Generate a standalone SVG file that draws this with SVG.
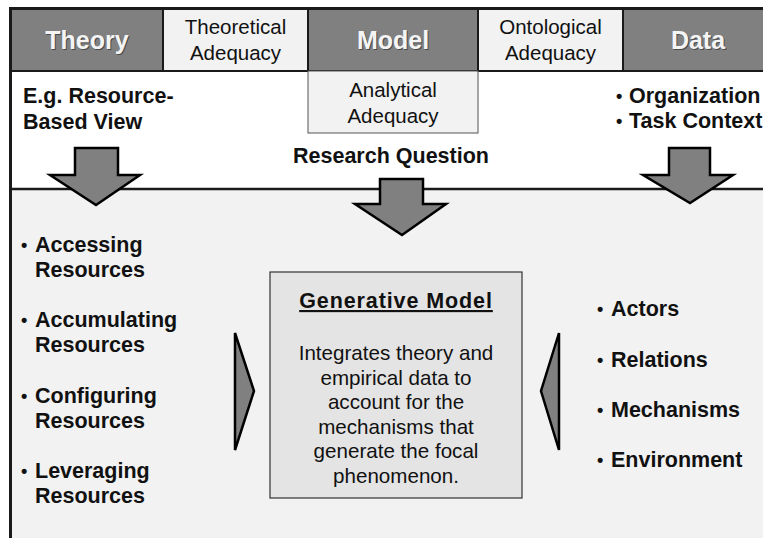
<svg xmlns="http://www.w3.org/2000/svg" width="763" height="538" viewBox="0 0 763 538">
  <style>
    .dark { fill: #808080; stroke: #1a1a1a; stroke-width: 2; }
    .light { fill: #f2f2f2; stroke: #1a1a1a; stroke-width: 2; }
    .head { font-family: "Liberation Sans", Arial, sans-serif; font-weight: bold; font-size: 25px; fill: #f4f4f4; text-anchor: middle; }
    .headShadow { font-family: "Liberation Sans", Arial, sans-serif; font-weight: bold; font-size: 25px; fill: #4a4a4a; text-anchor: middle; }
    .reg { font-family: "Liberation Sans", Arial, sans-serif; font-size: 20.5px; fill: #111; text-anchor: middle; }
    .bold { font-family: "Liberation Sans", Arial, sans-serif; font-weight: bold; font-size: 21.5px; fill: #111; }
    .dot { font-family: "Liberation Sans", Arial, sans-serif; font-weight: bold; font-size: 18px; fill: #111; }
    .body { font-family: "Liberation Sans", Arial, sans-serif; font-size: 20.6px; fill: #111; text-anchor: middle; }
    .arrow { fill: #808080; stroke: #000; stroke-width: 2.5; stroke-linejoin: miter; }
  </style>

  <!-- page background -->
  <rect x="0" y="0" width="763" height="538" fill="#ffffff"/>
  <!-- lower panel -->
  <rect x="10" y="189" width="753" height="349" fill="#f2f2f2"/>
  <line x1="10" y1="189" x2="763" y2="189" stroke="#1a1a1a" stroke-width="2.5"/>

  <!-- header row -->
  <g id="theory">
    <rect class="dark" x="11" y="9" width="152" height="62"/>
    <text class="headShadow" x="88" y="50">Theory</text>
    <text class="head" x="87" y="49">Theory</text>
  </g>
  <g id="theoretical-adequacy">
    <rect class="light" x="163" y="9" width="145" height="62"/>
    <text class="reg" x="235.5" y="34">Theoretical</text>
    <text class="reg" x="235.5" y="60">Adequacy</text>
  </g>
  <g id="model">
    <rect class="dark" x="308" y="9" width="170" height="62"/>
    <text class="headShadow" x="394" y="50">Model</text>
    <text class="head" x="393" y="49">Model</text>
  </g>
  <g id="ontological-adequacy">
    <rect class="light" x="478" y="9" width="145" height="62"/>
    <text class="reg" x="550.5" y="34">Ontological</text>
    <text class="reg" x="550.5" y="60">Adequacy</text>
  </g>
  <g id="data">
    <rect class="dark" x="623" y="9" width="142" height="62"/>
    <text class="headShadow" x="699" y="50">Data</text>
    <text class="head" x="698" y="49">Data</text>
  </g>
  <!-- outer frame edges -->
  <line x1="10" y1="8.5" x2="763" y2="8.5" stroke="#1a1a1a" stroke-width="3"/>
  <line x1="10.5" y1="7" x2="10.5" y2="538" stroke="#1a1a1a" stroke-width="3"/>

  <g id="analytical-adequacy">
    <rect x="308" y="71" width="170" height="62" fill="#f2f2f2" stroke="#555" stroke-width="1"/>
    <text class="reg" x="393" y="97">Analytical</text>
    <text class="reg" x="393" y="123">Adequacy</text>
  </g>

  <g id="theory-example">
    <text class="bold" x="23" y="103">E.g. Resource-</text>
    <text class="bold" x="23" y="129">Based View</text>
  </g>

  <g id="research-question">
    <text class="bold" x="391" y="163" text-anchor="middle">Research Question</text>
  </g>

  <g id="data-context">
    <text class="dot" x="616" y="102">•</text>
    <text class="bold" x="629" y="103">Organization</text>
    <text class="dot" x="616" y="127">•</text>
    <text class="bold" x="629" y="128">Task Context</text>
  </g>

  <g id="resource-activities">
    <text class="dot" x="21" y="251">•</text>
    <text class="bold" x="35" y="252">Accessing</text>
    <text class="bold" x="35" y="277">Resources</text>
    <text class="dot" x="21" y="326">•</text>
    <text class="bold" x="35" y="327">Accumulating</text>
    <text class="bold" x="35" y="352">Resources</text>
    <text class="dot" x="21" y="402">•</text>
    <text class="bold" x="35" y="403">Configuring</text>
    <text class="bold" x="35" y="428">Resources</text>
    <text class="dot" x="21" y="477">•</text>
    <text class="bold" x="35" y="478">Leveraging</text>
    <text class="bold" x="35" y="503">Resources</text>
  </g>

  <g id="data-elements">
    <text class="dot" x="597" y="315">•</text>
    <text class="bold" x="611" y="316">Actors</text>
    <text class="dot" x="597" y="366">•</text>
    <text class="bold" x="611" y="367">Relations</text>
    <text class="dot" x="597" y="416">•</text>
    <text class="bold" x="611" y="417">Mechanisms</text>
    <text class="dot" x="597" y="466">•</text>
    <text class="bold" x="611" y="467">Environment</text>
  </g>

  <g id="generative-model">
    <rect x="270" y="272" width="252" height="226" fill="#e4e4e4" stroke="#333" stroke-width="1.2"/>
    <text class="bold" x="396" y="308" text-anchor="middle" font-size="24" letter-spacing="0.9" text-decoration="underline">Generative Model</text>
    <text class="body" x="396" y="360">Integrates theory and</text>
    <text class="body" x="396" y="384.6">empirical data to</text>
    <text class="body" x="396" y="409.2">account for the</text>
    <text class="body" x="396" y="433.8">mechanisms that</text>
    <text class="body" x="396" y="458.4">generate the focal</text>
    <text class="body" x="396" y="483">phenomenon.</text>
  </g>

  <!-- connectors: block arrows feeding the model -->
  <g id="connectors">
    <polygon class="arrow" points="75,148 118,148 118,175 140,175 96,205 50,175 75,175"/>
    <polygon class="arrow" points="380,179 423,179 423,204 446,204 402,235 355,204 380,204"/>
    <polygon class="arrow" points="669,148 710,148 710,175 733,175 690,203 643,175 669,175"/>
    <polygon class="arrow" points="235,333 254,391 235,450"/>
    <polygon class="arrow" points="559,333 541,391 559,450"/>
  </g>
</svg>
